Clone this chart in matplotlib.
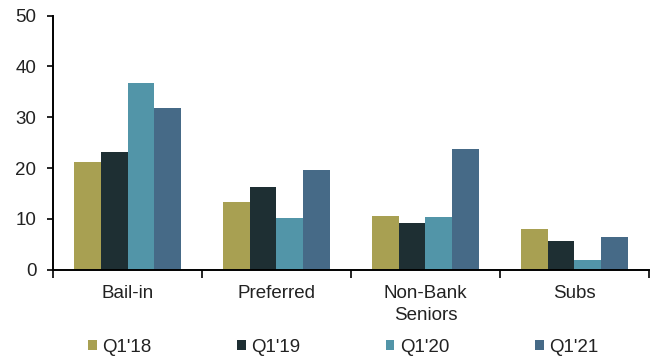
import matplotlib
matplotlib.use("Agg")
import matplotlib.pyplot as plt
import numpy as np

categories = ["Bail-in", "Preferred", "Non-Bank\nSeniors", "Subs"]
series_names = ["Q1'18", "Q1'19", "Q1'20", "Q1'21"]
q1_18 = [21.1, 13.3, 10.6, 7.9]
q1_19 = [23.2, 16.3, 9.2, 5.6]
q1_20 = [36.8, 10.1, 10.4, 1.8]
q1_21 = [31.9, 19.6, 23.7, 6.5]
colors = ["#A8A052", "#1E2F33", "#5295A8", "#466A87"]
y_ticks = [0, 10, 20, 30, 40, 50]

plt.rcParams['font.family'] = ['Liberation Sans', 'DejaVu Sans']
FS = 13.5
fig = plt.figure(figsize=(6.57, 3.57), dpi=100)
ax = fig.add_axes([0.0807, 0.245, 0.907, 0.711])

x = np.arange(len(categories))
w = 0.18
all_series = [q1_18, q1_19, q1_20, q1_21]
for i, (vals, c, name) in enumerate(zip(all_series, colors, series_names)):
    ax.bar(x + (i - 1.5) * w, vals, width=w, color=c, label=name, linewidth=0)

ax.set_xlim(-0.5, len(categories) - 0.5)
ax.set_ylim(0, 50)
ax.set_yticks(y_ticks)
ax.tick_params(axis='y', labelsize=FS, length=4, width=1.2, direction='out', pad=8, colors='black',
               labelcolor='#222222')
ax.set_xticks(x)
ax.set_xticklabels(categories, fontsize=FS, linespacing=1.4, color='#222222')
ax.tick_params(axis='x', length=0, pad=11)
ax.set_xticks(np.arange(len(categories) + 1) - 0.5, minor=True)
ax.tick_params(axis='x', which='minor', length=6, width=1.2, direction='in')
for t in ax.xaxis.get_minor_ticks():
    t.tick1line.set_marker(3)  # tickdown
for s in ['top', 'right']:
    ax.spines[s].set_visible(False)
for s in ['left', 'bottom']:
    ax.spines[s].set_linewidth(1.4)

leg = ax.legend(loc='center', bbox_to_anchor=(0.487, -0.307), ncol=4, frameon=False,
                fontsize=FS, handlelength=0.45, handleheight=0.45, handletextpad=0.3,
                columnspacing=4.57, borderaxespad=0, borderpad=0)
for t in leg.get_texts():
    t.set_color('#222222')

fig.savefig("out.png", dpi=100)
